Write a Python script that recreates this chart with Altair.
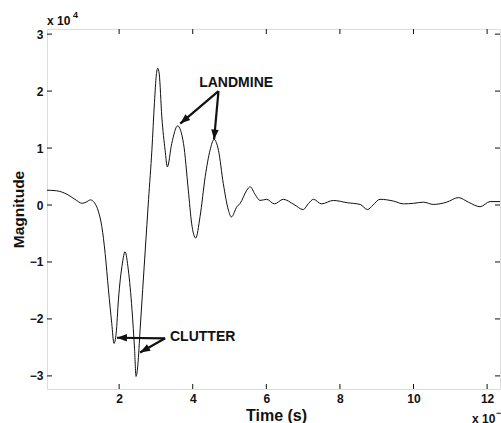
import math
import altair as alt
import pandas as pd

# ---- waveform (time in units of 1e-9 s, magnitude in units of 1e4) ----
t = [0.04, 0.3, 0.58, 0.8, 1.0, 1.1, 1.22, 1.33, 1.44, 1.53, 1.62, 1.71, 1.80, 1.86,
     1.92, 1.98, 2.09, 2.16, 2.25, 2.35, 2.42, 2.46, 2.51, 2.57, 2.71, 2.80, 2.89,
     2.96, 3.01, 3.05, 3.09, 3.16, 3.25, 3.31, 3.43, 3.59, 3.75, 3.88, 3.97, 4.08,
     4.2, 4.34, 4.47, 4.58, 4.70, 4.83, 4.97, 5.05, 5.2, 5.29, 5.47, 5.56, 5.70,
     5.83, 6.01, 6.22, 6.46, 6.75, 7.0, 7.15, 7.28, 7.5, 7.82, 8.2, 8.55, 8.75,
     8.9, 9.09, 9.45, 9.73, 10.0, 10.27, 10.54, 10.9, 11.22, 11.49, 11.81, 12.08, 12.35]
mag = [0.26, 0.25, 0.19, 0.1, 0.03, 0.05, 0.09, 0.04, -0.12, -0.38, -0.85, -1.49, -2.08, -2.43,
       -2.25, -1.67, -1.02, -0.82, -1.14, -1.84, -2.54, -3.01, -2.8, -2.19, -0.79, 0.1, 0.96,
       1.8, 2.28, 2.40, 2.3, 1.55, 0.96, 0.67, 1.08, 1.39, 1.08, 0.26, -0.32, -0.58,
       -0.2, 0.5, 0.96, 1.15, 0.96, 0.38, -0.09, -0.21, -0.03, 0.03, 0.26, 0.32, 0.18,
       0.08, 0.1, 0.02, 0.1, 0.01, -0.08, 0.03, 0.1, 0.02, 0.08, 0.04, 0.01, -0.08,
       0.0, 0.1, 0.07, 0.02, 0.03, 0.05, 0.01, 0.05, 0.13, 0.05, -0.03, 0.06, 0.06]

x_ticks = [2, 4, 6, 8, 10, 12]
y_ticks = [-3, -2, -1, 0, 1, 2, 3]

# ---- annotations (data units) ----
label_text = ["LANDMINE", "CLUTTER"]
label_x = [5.18, 4.27]
label_y = [2.14, -2.32]

arrow_x0 = [4.70, 4.70, 3.25, 3.25]
arrow_y0 = [2.0, 2.0, -2.34, -2.34]
arrow_x1 = [3.66, 4.58, 1.94, 2.57]
arrow_y1 = [1.43, 1.15, -2.33, -2.59]

X_DOMAIN = [0.04, 12.35]
Y_DOMAIN = [-3.23, 3.09]
W, H = 453, 360
FONT = "Liberation Sans"
INK = "#111111"

xs = alt.Scale(domain=X_DOMAIN, nice=False, zero=False)
ys = alt.Scale(domain=Y_DOMAIN, nice=False, zero=False)

X_AXIS = alt.Axis(
    values=x_ticks, title="Time (s)", ticks=False, tickSize=0, domain=False, grid=False,
    labelFont=FONT, labelFontSize=12, labelFontWeight="bold", labelColor=INK, labelPadding=4,
    titleFont=FONT, titleFontSize=16, titleFontWeight="bold", titleColor=INK,
    titleX=229, titleY=31, titleBaseline="alphabetic", titleAlign="center")
Y_AXIS = alt.Axis(
    values=y_ticks, title="Magnitude", ticks=False, tickSize=0, domain=False, grid=False,
    labelFont=FONT, labelFontSize=12, labelFontWeight="bold", labelColor=INK, labelPadding=4,
    titleFont=FONT, titleFontSize=15.5, titleFontWeight="bold", titleColor=INK,
    titleX=-29, titleY=H / 2, titleAngle=-90, titleBaseline="middle", titleAlign="center")


def X(f):
    return alt.X(f, scale=xs, axis=X_AXIS)


def Y(f):
    return alt.Y(f, scale=ys, axis=Y_AXIS)


wave = pd.DataFrame({"t": t, "m": mag})
line = alt.Chart(wave).mark_line(color=INK, strokeWidth=1, interpolate="monotone").encode(
    x=X("t:Q"), y=Y("m:Q"))

# inward tick marks (MATLAB style) on all four sides
xt = pd.DataFrame({"v": x_ticks})
yt = pd.DataFrame({"v": y_ticks})
TL = 5
xticks_bottom = alt.Chart(xt).mark_rule(color=INK, strokeWidth=1).encode(
    x=X("v:Q"), y=alt.value(H), y2=alt.value(H - TL))
xticks_top = alt.Chart(xt).mark_rule(color=INK, strokeWidth=1).encode(
    x=X("v:Q"), y=alt.value(0), y2=alt.value(TL))
yticks_left = alt.Chart(yt).mark_rule(color=INK, strokeWidth=1).encode(
    y=Y("v:Q"), x=alt.value(0), x2=alt.value(TL))
yticks_right = alt.Chart(yt).mark_rule(color=INK, strokeWidth=1).encode(
    y=Y("v:Q"), x=alt.value(W), x2=alt.value(W - TL))

# arrows
sx = W / (X_DOMAIN[1] - X_DOMAIN[0])
sy = H / (Y_DOMAIN[1] - Y_DOMAIN[0])
angles = []
for a, b, c, d in zip(arrow_x0, arrow_y0, arrow_x1, arrow_y1):
    dx = (c - a) * sx
    dy = -(d - b) * sy
    angles.append(math.degrees(math.atan2(dx, -dy)) % 360)
arrows = pd.DataFrame({"x0": arrow_x0, "y0": arrow_y0, "x1": arrow_x1, "y1": arrow_y1, "ang": angles})

arrow_lines = alt.Chart(arrows).mark_rule(color=INK, strokeWidth=2.2).encode(
    x=X("x0:Q"), y=Y("y0:Q"), x2="x1:Q", y2="y1:Q")
arrow_heads = alt.Chart(arrows).mark_point(
    shape="M0,0 L-0.75,2 L0.75,2 Z", filled=True, size=100, color=INK, opacity=1, strokeWidth=0
).encode(x=X("x1:Q"), y=Y("y1:Q"), angle=alt.Angle("ang:Q", scale=None))

labels = pd.DataFrame({"txt": label_text, "x": label_x, "y": label_y})
label_marks = alt.Chart(labels).mark_text(
    font=FONT, fontSize=14, fontWeight="bold", color=INK, align="center", baseline="middle"
).encode(x=X("x:Q"), y=Y("y:Q"), text="txt:N")

# exponent labels
exp_df = pd.DataFrame({"a": [0]})


def txt(s, x, y, size=12):
    return alt.Chart(exp_df).mark_text(
        text=s, font=FONT, fontSize=size, fontWeight="bold", color=INK, align="left", baseline="middle"
    ).encode(x=alt.value(x), y=alt.value(y))


exp_marks = (txt("x 10", 0, -8) + txt("4", 26, -14, 9)
             + txt("x 10", 425, 390) + txt("−9", 449, 384, 9))

chart = alt.layer(
    line, xticks_bottom, xticks_top, yticks_left, yticks_right,
    arrow_lines, arrow_heads, label_marks, exp_marks
).properties(
    width=W, height=H,
    autosize=alt.AutoSizeParams(type="none"),
    padding={"left": 47, "top": 29, "right": 1, "bottom": 34},
).configure_view(stroke="#222222", strokeWidth=1.2).configure(background="white")

chart.save("out.html", embed_options={"renderer": "svg", "actions": False})
